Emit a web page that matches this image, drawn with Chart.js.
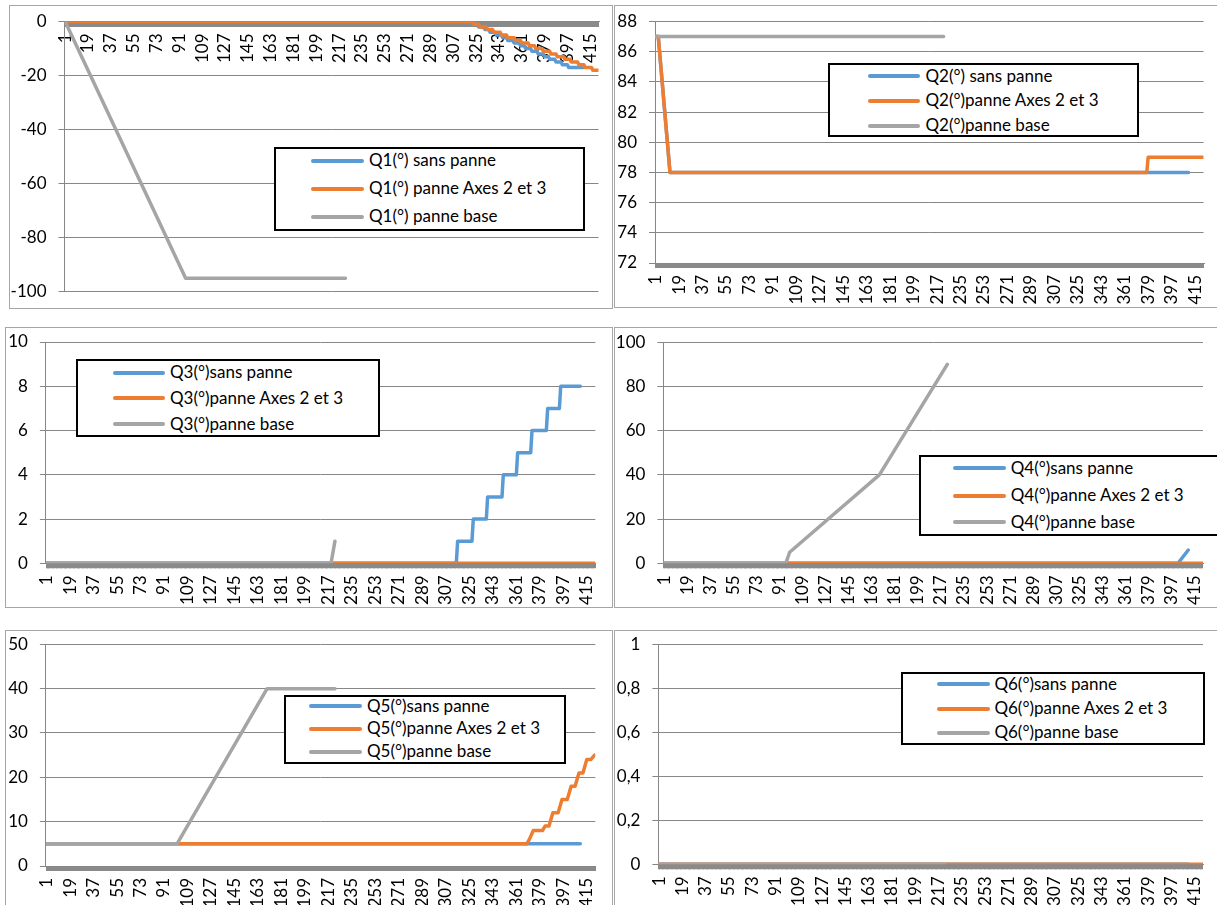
<!DOCTYPE html>
<html>
<head>
<meta charset="utf-8">
<title>Q1 à Q6 : sans panne / panne Axes 2 et 3 / panne base</title>
<script src="https://cdn.jsdelivr.net/npm/chart.js@4.4.1/dist/chart.umd.min.js"></script>
<style>
  html, body { margin: 0; padding: 0; background: #fff; width: 1217px; height: 905px; overflow: hidden; }
  .panel { position: absolute; box-sizing: border-box; border: 1px solid #a6a6a6; background: #fff; }
  .panel canvas { position: absolute; left: 0; top: 0; }
  .legend { position: absolute; box-sizing: border-box; border: 2px solid #000; background: #fff; }
  .swatch { position: absolute; height: 4px; border-radius: 2px; }
  .entry { position: absolute; font-family: Lato, "Open Sans", sans-serif; font-size: 17px; line-height: 20px; color: #000; white-space: nowrap; }
</style>
</head>
<body>
<script>
// Sample index (1 … 421) and the labelled positions on the horizontal axis
const categories = Array.from({ length: 421 }, (_, i) => i + 1);
const xTickLabels = [1, 19, 37, 55, 73, 91, 109, 127, 145, 163, 181, 199, 217, 235, 253, 271, 289, 307, 325, 343, 361, 379, 397, 415];

// Joint angles, as [sample, degrees] vertices
const q1SansPanne = [[1, 0], [321, 0], [322, -1], [326, -1], [327, -2], [331, -2], [332, -3], [335, -3], [336, -4], [340, -4], [341, -5], [345, -5], [346, -6], [349, -6], [350, -7], [354, -7], [355, -8], [359, -8], [360, -9], [363, -9], [364, -10], [368, -10], [369, -11], [373, -11], [374, -12], [378, -12], [379, -13], [382, -13], [383, -14], [387, -14], [388, -15], [392, -15], [393, -16], [397, -16], [398, -17], [410, -17]];
const q1PanneAxes = [[1, 0], [322, 0], [323, -1], [327, -1], [328, -2], [333, -2], [334, -3], [338, -3], [339, -4], [344, -4], [345, -5], [349, -5], [350, -6], [355, -6], [356, -7], [360, -7], [361, -8], [366, -8], [367, -9], [371, -9], [372, -10], [377, -10], [378, -11], [383, -11], [384, -12], [388, -12], [389, -13], [394, -13], [395, -14], [399, -14], [400, -15], [405, -15], [406, -16], [410, -16], [411, -17], [416, -17], [417, -18], [421, -18]];
const q1PanneBase = [[1, 0], [96, -95], [222, -95]];

const q2SansPanne = [[1, 87], [3, 87], [12, 78], [410, 78]];
const q2PanneAxes = [[1, 87], [3, 87], [12, 78], [378, 78], [379, 79], [421, 79]];
const q2PanneBase = [[1, 87], [222, 87]];

const q3SansPanne = [[1, 0], [315, 0], [316, 1], [327, 1], [328, 2], [338, 2], [339, 3], [350, 3], [351, 4], [361, 4], [362, 5], [372, 5], [373, 6], [384, 6], [385, 7], [394, 7], [395, 8], [410, 8]];
const q3PanneAxes = [[1, 0], [421, 0]];
const q3PanneBase = [[1, 0], [219, 0], [222, 1]];

const q4SansPanne = [[1, 0], [402, 0], [410, 6]];
const q4PanneAxes = [[1, 0], [421, 0]];
const q4PanneBase = [[1, 0], [96, 0], [99, 5], [169, 40], [222, 90]];

const q5SansPanne = [[1, 5], [410, 5]];
const q5PanneAxes = [[1, 5], [369, 5], [371, 6], [374, 8], [381, 8], [383, 9], [386, 9], [389, 12], [393, 12], [396, 15], [400, 15], [403, 18], [406, 18], [409, 21], [412, 21], [415, 24], [418, 24], [421, 25]];
const q5PanneBase = [[1, 5], [101, 5], [170, 40], [222, 40]];

const q6SansPanne = [[1, 0], [410, 0]];
const q6PanneAxes = [[1, 0], [421, 0]];
const q6PanneBase = [[1, 0], [222, 0]];

// Series names
const q1Labels = ['Q1(°) sans panne', 'Q1(°) panne Axes 2 et 3', 'Q1(°) panne base'];
const q2Labels = ['Q2(°) sans panne', 'Q2(°)panne Axes 2 et 3', 'Q2(°)panne base'];
const q3Labels = ['Q3(°)sans panne', 'Q3(°)panne Axes 2 et 3', 'Q3(°)panne base'];
const q4Labels = ['Q4(°)sans panne', 'Q4(°)panne Axes 2 et 3', 'Q4(°)panne base'];
const q5Labels = ['Q5(°)sans panne', 'Q5(°)panne Axes 2 et 3', 'Q5(°)panne base'];
const q6Labels = ['Q6(°)sans panne', 'Q6(°)panne Axes 2 et 3', 'Q6(°)panne base'];

// Value-axis ticks
const q1YTicks = [-100, -80, -60, -40, -20, 0];
const q2YTicks = [72, 74, 76, 78, 80, 82, 84, 86, 88];
const q3YTicks = [0, 2, 4, 6, 8, 10];
const q4YTicks = [0, 20, 40, 60, 80, 100];
const q5YTicks = [0, 10, 20, 30, 40, 50];
const q6YTicks = [0, 0.2, 0.4, 0.6, 0.8, 1];

const seriesColors = ['#5B9BD5', '#ED7D31', '#A5A5A5'];
const axisGray = '#878787';
const tickFont = { family: 'Lato', size: 17 };

// Frame, plot rectangle and legend placement of each panel (page pixels)
const panels = [
  { series: [q1SansPanne, q1PanneAxes, q1PanneBase], labels: q1Labels, yTicks: q1YTicks, axisAtTop: true,
    box: [9, 5, 612, 308], plot: [64.5, 21.5, 598.5, 291.7],
    legend: { box: [273.5, 146.7, 584.8, 230.7], rows: [160.7, 188.7, 216.7], line: [311, 364], text: 369 } },
  { series: [q2SansPanne, q2PanneAxes, q2PanneBase], labels: q2Labels, yTicks: q2YTicks,
    box: [614, 5, 1232, 307], plot: [655, 21.5, 1203.5, 263],
    legend: { box: [827.6, 63.3, 1139, 137.3], rows: [76, 100.7, 125.7], line: [867.5, 919.7], text: 925.5 } },
  { series: [q3SansPanne, q3PanneAxes, q3PanneBase], labels: q3Labels, yTicks: q3YTicks,
    box: [5, 327, 612, 607], plot: [45.9, 342, 595.3, 563.3],
    legend: { box: [75.9, 359.3, 380, 437.3], rows: [372.7, 398.3, 424.3], line: [112.8, 165.4], text: 170 } },
  { series: [q4SansPanne, q4PanneAxes, q4PanneBase], labels: q4Labels, yTicks: q4YTicks,
    box: [614, 327, 1232, 607], plot: [663.4, 342.3, 1203, 563.3],
    legend: { box: [918.6, 455, 1232, 535.7], rows: [468.3, 495.7, 522.3], line: [952.6, 1005.7], text: 1010.7 } },
  { series: [q5SansPanne, q5PanneAxes, q5PanneBase], labels: q5Labels, yTicks: q5YTicks,
    box: [5, 630, 612, 920], plot: [45.9, 644.3, 595.3, 866],
    legend: { box: [284, 694.7, 566, 764], rows: [706, 728.7, 751.7], line: [309.3, 361.9], text: 367 } },
  { series: [q6SansPanne, q6PanneAxes, q6PanneBase], labels: q6Labels, yTicks: q6YTicks, decimalComma: true,
    box: [614, 630, 1232, 920], plot: [658.4, 644.3, 1203, 864.3],
    legend: { box: [901, 672.3, 1205, 745.3], rows: [684.3, 708.7, 732.7], line: [937, 990], text: 994.4 } }
];

function px(v) { return v + 'px'; }

function drawLegend(chart, lg) {
  const box = document.createElement('div');
  box.className = 'legend';
  box.style.left = px(lg.box[0]);
  box.style.top = px(lg.box[1]);
  box.style.width = px(lg.box[2] - lg.box[0]);
  box.style.height = px(lg.box[3] - lg.box[1]);
  document.body.appendChild(box);
  chart.data.datasets.forEach((ds, i) => {
    const sw = document.createElement('div');
    sw.className = 'swatch';
    sw.style.background = ds.borderColor;
    sw.style.left = px(lg.line[0]);
    sw.style.width = px(lg.line[1] - lg.line[0]);
    sw.style.top = px(lg.rows[i] - 2);
    document.body.appendChild(sw);
    const tx = document.createElement('div');
    tx.className = 'entry';
    tx.textContent = ds.label;
    tx.style.left = px(lg.text);
    tx.style.top = px(lg.rows[i] - 10.5);
    document.body.appendChild(tx);
  });
}

function buildPanel(p) {
  const [bl, bt, br, bb] = p.box;
  const frame = document.createElement('div');
  frame.className = 'panel';
  frame.style.left = px(bl);
  frame.style.top = px(bt);
  frame.style.width = px(br - bl + 1);
  frame.style.height = px(bb - bt + 1);
  document.body.appendChild(frame);

  const cx = bl + 1, cy = bt + 1, cw = br - bl - 1, ch = bb - bt - 1;
  const canvas = document.createElement('canvas');
  canvas.width = cw;
  canvas.height = ch;
  canvas.style.width = px(cw);
  canvas.style.height = px(ch);
  frame.appendChild(canvas);

  const [x0, y0, x1, y1] = p.plot;
  const yMin = p.yTicks[0], yMax = p.yTicks[p.yTicks.length - 1];
  const fmt = v => p.decimalComma ? String(Math.round(v * 10) / 10).replace('.', ',') : String(v);

  const chart = new Chart(canvas, {
    type: 'line',
    data: {
      datasets: p.series.map((s, i) => ({
        label: p.labels[i],
        data: s.map(([x, y]) => ({ x, y })),
        borderColor: seriesColors[i],
        backgroundColor: seriesColors[i],
        borderWidth: 3.5,
        borderCapStyle: 'round',
        borderJoinStyle: 'round',
        pointRadius: 0,
        tension: 0,
        fill: false,
        order: 2 - i
      }))
    },
    options: {
      responsive: false,
      animation: false,
      devicePixelRatio: 1,
      events: [],
      layout: { padding: { left: 0, top: y0 - cy, right: cx + cw - x1, bottom: p.axisAtTop ? cy + ch - y1 : 0 } },
      plugins: { legend: { display: false }, tooltip: { enabled: false } },
      scales: {
        x: {
          type: 'linear',
          min: 0.5,
          max: 421.5,
          position: p.axisAtTop ? { y: 0 } : 'bottom',
          afterBuildTicks: s => { s.ticks = categories.map(v => ({ value: v })); },
          afterFit: s => {
            if (!p.axisAtTop) s.height = cy + ch - y1;
            s.paddingLeft = 0; s.paddingRight = 0;
          },
          grid: { drawOnChartArea: false, drawTicks: true, tickLength: 5, lineWidth: 2, tickWidth: 2, tickColor: '#8a8a8a', color: '#8a8a8a' },
          border: { display: true, color: axisGray, width: 1 },
          ticks: {
            autoSkip: false, minRotation: 90, maxRotation: 90, padding: 7,
            font: tickFont, color: '#000',
            callback: v => xTickLabels.includes(v) ? String(v) : ''
          }
        },
        y: {
          type: 'linear',
          min: yMin,
          max: yMax,
          position: 'left',
          afterBuildTicks: s => { s.ticks = p.yTicks.map(v => ({ value: v })); },
          afterFit: s => {
            s.width = x0 - cx;
            s.paddingTop = 0; s.paddingBottom = 0;
          },
          grid: { color: axisGray, lineWidth: 1, drawTicks: true, tickLength: 6 },
          border: { display: true, color: axisGray, width: 1 },
          ticks: { padding: 12, font: tickFont, color: '#000', callback: v => fmt(v) }
        }
      }
    }
  });
  drawLegend(chart, p.legend);
}

panels.forEach(buildPanel);
</script>
</body>
</html>
